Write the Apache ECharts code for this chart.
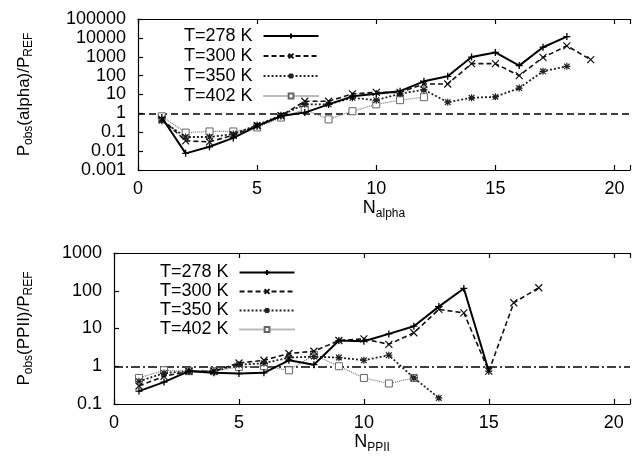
<!DOCTYPE html>
<html>
<head>
<meta charset="utf-8">
<script src="https://cdn.jsdelivr.net/npm/echarts@6/dist/echarts.min.js"></script>
<style>
  html, body { margin: 0; padding: 0; background: #fff; }
  #chart { width: 633px; height: 456px; }
</style>
</head>
<body>
<div id="chart"></div>
<script>
// top panel: N_alpha
var alphaX = [1,2,3,4,5,6,7,8,9,10,11,12,13,14,15,16,17,18,19];
var alpha278 = [0.6,0.0076,0.017,0.05,0.21,0.72,1.1,3.0,8,11,15,50,92,960,1700,340,3200,11700];
var alpha300 = [0.5,0.035,0.031,0.07,0.22,0.75,4.4,4.4,10.8,13,13,36,36,430,430,100,920,3800,700];
var alpha350 = [0.4,0.056,0.056,0.08,0.24,0.8,3,3,6.7,5,11,18,3.9,6.7,7.5,22,170,310];
var alpha402 = [0.7,0.096,0.11,0.11,0.18,0.6,1.6,0.48,1.3,3,5,7.2];
var alphaTicks = [0.001,0.01,0.1,1,10,100,1000,10000,100000];

// bottom panel: N_PPII
var ppiiX = [1,2,3,4,5,6,7,8,9,10,11,12,13,14,15,16,17];
var ppii278 = [0.22,0.38,0.74,0.67,0.64,0.67,1.44,1.1,4.8,4.6,7.2,11.5,38,115,0.74];
var ppii300 = [0.3,0.54,0.74,0.74,1.22,1.44,2.17,2.5,4.8,5.3,3.8,7.7,32,26,0.74,48,120];
var ppii350 = [0.4,0.66,0.74,0.74,1.1,1.2,1.7,1.8,1.7,1.44,1.96,0.49,0.145];
var ppii402 = [0.49,0.78,0.74,0.74,0.96,1.0,0.78,2.0,1.0,0.49,0.35,0.49];
var ppiiTicks = [0.1,1,10,100,1000];

var names = ['T=278 K','T=300 K','T=350 K','T=402 K'];
var FONT = 'Liberation Sans';
var XMAX = 20.65;

function pairs(xs, ys) {
  return ys.map(function (v, i) { return [xs[i], v]; });
}

var styles = [
  { symbol: 'path://M0,5L10,5M5,0L5,10', size: 7, line: { color: '#000', width: 2, type: 'solid' }, item: { color: '#000', borderColor: '#000', borderWidth: 1.3 } },
  { symbol: 'path://M0,0L10,10M10,0L0,10', size: 7, line: { color: '#111', width: 1.6, type: [5, 3] }, item: { color: '#111', borderColor: '#111', borderWidth: 1.2 } },
  { symbol: 'path://M0,5L10,5M5,0L5,10M1,1L9,9M9,1L1,9', size: 7, line: { color: '#222', width: 1.8, type: [2, 2] }, item: { color: '#222', borderColor: '#222', borderWidth: 1.2 } },
  { symbol: 'rect', size: 7, line: { color: '#777', width: 1.2, type: [1, 1] }, item: { color: '#fff', borderColor: '#666', borderWidth: 1 } }
];

function makeSeries(dataSets, xs, gridIdx, refType) {
  return dataSets.map(function (ys, i) {
    var s = styles[i];
    var ser = {
      name: names[i],
      type: 'line',
      xAxisIndex: gridIdx * 2,
      yAxisIndex: gridIdx,
      data: pairs(xs, ys),
      symbol: s.symbol,
      symbolSize: s.size,
      showAllSymbol: true,
      lineStyle: s.line,
      itemStyle: s.item,
      z: 10 - i,
      animation: false
    };
    if (i === 0) {
      ser.markLine = {
        silent: true,
        symbol: 'none',
        label: { show: false },
        lineStyle: { color: '#000', width: 1.5, type: refType },
        data: [{ yAxis: 1 }]
      };
    }
    return ser;
  });
}

function yName(mid) {
  return '{b|P}{s|obs}{b|' + mid + '/P}{s|REF}';
}
var nameRich = {
  b: { fontSize: 18, lineHeight: 24, fontFamily: FONT, color: '#000' },
  s: { fontSize: 12, lineHeight: 12, fontFamily: FONT, color: '#000', verticalAlign: 'bottom' }
};
var yNameRich = {
  b: { fontSize: 17, lineHeight: 22, fontFamily: FONT, color: '#000' },
  s: { fontSize: 12, lineHeight: 12, fontFamily: FONT, color: '#000', verticalAlign: 'bottom' }
};

function xAxes(gridIdx, nameTxt) {
  var common = {
    type: 'value', gridIndex: gridIdx, min: 0, max: XMAX, interval: 5,
    splitLine: { show: false },
    axisLine: { show: true, lineStyle: { color: '#000', width: 1.2 } },
    axisTick: { show: true, inside: true, length: 5, lineStyle: { color: '#000', width: 1.2 } }
  };
  var bottom = Object.assign({}, common, {
    position: 'bottom',
    axisLabel: { fontSize: 18, fontFamily: FONT, color: '#000', margin: 10,
      formatter: function (v) { return v > 20 ? '' : String(v); } },
    name: nameTxt,
    nameLocation: 'middle',
    nameGap: 25,
    nameTextStyle: { rich: nameRich, verticalAlign: 'top' }
  });
  var top = Object.assign({}, common, {
    position: 'top',
    axisLabel: { show: false }
  });
  return [bottom, top];
}

function yAxis(gridIdx, min, max, ticks, nameTxt, gap) {
  return {
    type: 'log', gridIndex: gridIdx, logBase: 10, min: min, max: max,
    splitNumber: ticks.length - 1,
    splitLine: { show: false },
    axisLine: { show: true, lineStyle: { color: '#000', width: 1.2 } },
    axisTick: { show: true, inside: true, length: 5, lineStyle: { color: '#000', width: 1.2 } },
    axisLabel: { fontSize: 18, fontFamily: FONT, color: '#000', margin: 12,
      formatter: function (v) { return String(+(+v).toPrecision(1)); } },
    name: nameTxt,
    nameLocation: 'middle',
    nameRotate: 90,
    nameGap: gap,
    nameTextStyle: { rich: yNameRich }
  };
}

function legend(gridIdx, left, top, lh) {
  return {
    data: names.map(function (n) { return { name: n }; }),
    orient: 'vertical',
    left: left,
    top: top,
    align: 'right',
    itemWidth: 55,
    itemHeight: 6,
    itemGap: 0,
    selectedMode: false,
    textStyle: { fontSize: 18, lineHeight: lh, fontFamily: FONT, color: '#000', padding: [0, 6, 0, 0] },
    seriesIndex: gridIdx === 0 ? [0, 1, 2, 3] : [4, 5, 6, 7]
  };
}

var chart = echarts.init(document.getElementById('chart'), null, { renderer: 'canvas' });
var topXA = xAxes(0, '{b|N}{s|alpha}');
var botXA = xAxes(1, '{b|N}{s|PPII}');

var option = {
  backgroundColor: '#fff',
  animation: false,
  grid: [
    { left: 138, right: 0, top: 19, bottom: 286 },
    { left: 114, right: 0, top: 253, bottom: 52 }
  ],
  xAxis: [topXA[0], topXA[1], botXA[0], botXA[1]],
  yAxis: [
    yAxis(0, 0.001, 100000, alphaTicks, yName('(alpha)'), 103),
    yAxis(1, 0.1, 1000, ppiiTicks, yName('(PPII)'), 79)
  ],
  legend: [legend(0, 179, 21, 20), legend(1, 155, 258, 19)],
  series: makeSeries([alpha278, alpha300, alpha350, alpha402], alphaX, 0, [7, 4])
    .concat(makeSeries([ppii278, ppii300, ppii350, ppii402], ppiiX, 1, [9, 3, 2, 3]))
};
chart.setOption(option);
</script>
</body>
</html>
